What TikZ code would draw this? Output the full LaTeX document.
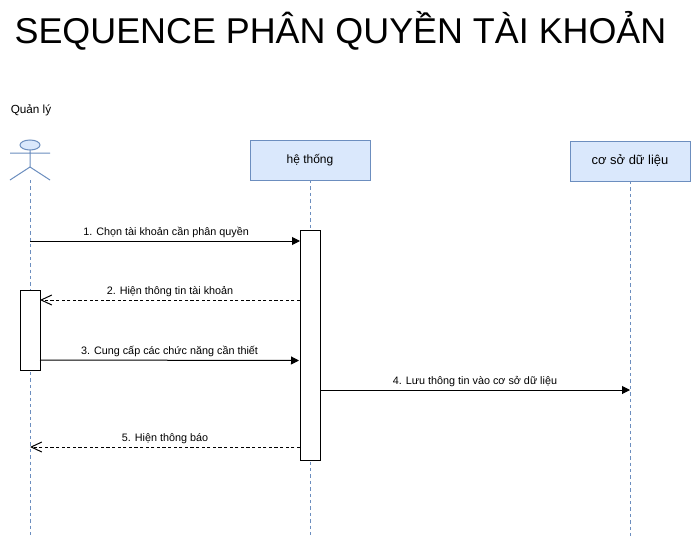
\documentclass[tikz,border=0pt]{standalone}
\usepackage{fontspec}
\setmainfont{Liberation Sans}
\usetikzlibrary{arrows.meta}
\definecolor{lifeblue}{HTML}{6C8EBF}
\definecolor{boxfill}{HTML}{DAE8FC}
\tikzset{x=0.75pt,y=-0.75pt,
 lifeline/.style={draw=lifeblue,dash pattern=on 2.6pt off 2.2pt,line width=0.75pt},
 headbox/.style={draw=lifeblue,fill=boxfill,line width=0.75pt,minimum width=90pt,minimum height=30pt,inner sep=0pt},
 activation/.style={draw=black,fill=white,line width=0.75pt,minimum width=15pt,inner sep=0pt},
 msglabel/.style={font=\fontsize{8.1}{10}\selectfont,inner sep=0pt},
 syncmsg/.style={draw=black,line width=0.75pt,-{Triangle[length=6pt,width=6pt]}},
 replymsg/.style={draw=black,line width=0.75pt,dash pattern=on 2.4pt off 1.8pt,-{Straight Barb[length=8pt,width=7.5pt]}},
 actorline/.style={draw=lifeblue,line width=0.75pt,fill=boxfill}}
\begin{document}
\begin{tikzpicture}
\useasboundingbox (0,0) rectangle (692,542);
\fill[white] (0,0) rectangle (692,542);
\node[font=\fontsize{26.9}{32}\selectfont,inner sep=0pt] (title) at (340.5,30.5) {SEQUENCE PHÂN QUYỀN TÀI KHOẢN};
\node[font=\fontsize{8.8}{11}\selectfont,inner sep=0pt] (actorname) at (31,110) {Quản lý};
\coordinate (a0) at (30,180);
\coordinate (a1) at (30,538);
\coordinate (b0) at (310,180);
\coordinate (b1) at (310,538);
\coordinate (c0) at (630,181);
\coordinate (c1) at (630,538);
\draw[lifeline] (a0) -- (a1);
\draw[lifeline] (b0) -- (b1);
\draw[lifeline] (c0) -- (c1);
\draw[actorline] (30,145) ellipse (10 and 5);
\draw[actorline] (30,150) -- (30,167) (10,153) -- (50,153) (30,167) -- (10,180) (30,167) -- (50,180);
\node[headbox,font=\fontsize{9}{11}\selectfont] (sys) at (310,160) {hệ thống};
\node[headbox,font=\fontsize{9.7}{11}\selectfont] (db) at (630,161) {cơ sở dữ liệu};
\node[activation,minimum height=172.5pt] (actS) at (310,345) {};
\node[activation,minimum height=60pt] (actA) at (30,330) {};
\coordinate (m1s) at (30,241);
\coordinate (m1e) at (300,241);
\coordinate (m2s) at (300,300);
\coordinate (m2e) at (40,300);
\coordinate (m3s) at (40,360);
\coordinate (m3e) at (299,360.5);
\coordinate (m4s) at (320,390);
\coordinate (m4e) at (630,390);
\coordinate (m5s) at (300,447);
\coordinate (m5e) at (30,447);
\draw[syncmsg] (m1s) -- (m1e) node[msglabel,midway,above=2.2pt,xshift=0.8pt] {1. Chọn tài khoản cần phân quyền};
\draw[replymsg] (m2s) -- (m2e) node[msglabel,midway,above=2.2pt] {2. Hiện thông tin tài khoản};
\draw[syncmsg] (m3s) -- (m3e) node[msglabel,midway,above=2.2pt] {3. Cung cấp các chức năng cần thiết};
\draw[syncmsg] (m4s) -- (m4e) node[msglabel,midway,above=2.2pt] {4. Lưu thông tin vào cơ sở dữ liệu};
\draw[replymsg] (m5s) -- (m5e) node[msglabel,midway,above=2.2pt] {5. Hiện thông báo};
\end{tikzpicture}
\end{document}
